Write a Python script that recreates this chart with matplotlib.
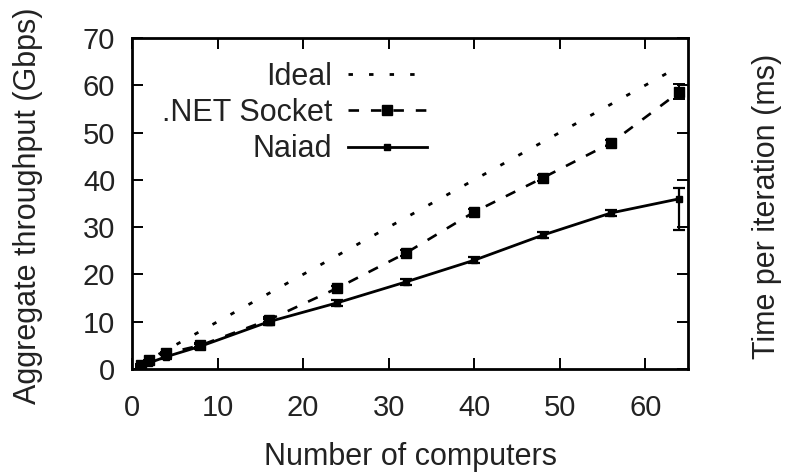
import matplotlib
matplotlib.use("Agg")
import matplotlib.pyplot as plt

# ---- data ----
computers = [1, 2, 4, 8, 16, 24, 32, 40, 48, 56, 64]
ideal = [1, 2, 4, 8, 16, 24, 32, 40, 48, 56, 64]
net_socket = [0.9, 1.8, 3.3, 5.0, 10.4, 17.1, 24.5, 33.2, 40.4, 47.8, 58.6]
net_socket_err_lo = [0.2, 0.2, 0.3, 0.4, 0.5, 0.5, 0.6, 0.6, 0.6, 0.6, 1.4]
net_socket_err_hi = [0.2, 0.2, 0.3, 0.4, 0.5, 0.5, 0.6, 0.6, 0.6, 0.6, 1.6]
naiad = [0.6, 1.3, 2.6, 4.8, 10.0, 14.0, 18.4, 23.0, 28.3, 33.0, 36.0]
naiad_err_lo = [0.2, 0.3, 0.4, 0.5, 0.6, 0.6, 0.6, 0.6, 0.6, 0.6, 6.6]
naiad_err_hi = [0.2, 0.3, 0.4, 0.5, 0.6, 0.6, 0.6, 0.6, 0.6, 0.6, 2.3]

x_ticks = [0, 10, 20, 30, 40, 50, 60]
y_ticks = [0, 10, 20, 30, 40, 50, 60, 70]

plt.rcParams['font.family'] = ['Liberation Sans', 'DejaVu Sans']

W, H = 786, 476
fig = plt.figure(figsize=(W / 100, H / 100), dpi=100)
ax = fig.add_axes([132 / W, 1 - 369 / H, (688 - 132) / W, (369 - 38) / H])

# Ideal
ax.plot(computers, ideal, color='black', lw=2.0, linestyle=(0, (1.6, 5.8)),
        label='Ideal')
# .NET Socket
ax.errorbar(computers, net_socket, yerr=[net_socket_err_lo, net_socket_err_hi],
            fmt='none', ecolor='black', elinewidth=1.4, capsize=4.5, capthick=1.4)
ax.plot(computers, net_socket, color='black', lw=1.9, linestyle=(0, (4, 4.5)),
        marker='s', markersize=7.5, label='.NET Socket')
# Naiad
ax.errorbar(computers, naiad, yerr=[naiad_err_lo, naiad_err_hi],
            fmt='none', ecolor='black', elinewidth=1.6, capsize=4.5, capthick=1.6)
ax.plot(computers, naiad, color='black', lw=2.0, linestyle='-',
        marker='s', markersize=5, label='Naiad')

ax.set_xlim(0, 65)
ax.set_ylim(0, 70)
ax.set_xticks(x_ticks)
ax.set_yticks(y_ticks)
ax.tick_params(direction='in', length=8, width=1.4, top=True, right=True,
               labelsize=21, labelcolor='#222222')
ax.tick_params(axis='x', pad=18)
ax.tick_params(axis='y', pad=12)
for s in ax.spines.values():
    s.set_linewidth(2.0)

leg = ax.legend(loc='upper right', bbox_to_anchor=(427 / W, 1 - 62 / H),
                bbox_transform=fig.transFigure, frameon=False, markerfirst=False,
                fontsize=22, handlelength=2.6, handletextpad=0.5,
                labelspacing=0.2, borderpad=0, borderaxespad=0, numpoints=1)
for t in leg.get_texts():
    t.set_color('#222222')

fig.text(410 / W, 1 - 457 / H, 'Number of computers', ha='center', va='center',
         fontsize=22, color='#222222')
fig.text(28 / W, 1 - 206 / H, 'Aggregate throughput (Gbps)', ha='center',
         va='center', rotation=90, fontsize=22, color='#222222')
fig.text(767 / W, 1 - 206 / H, 'Time per iteration (ms)', ha='center',
         va='center', rotation=90, fontsize=22, color='#222222')

fig.savefig('out.png', dpi=100)
